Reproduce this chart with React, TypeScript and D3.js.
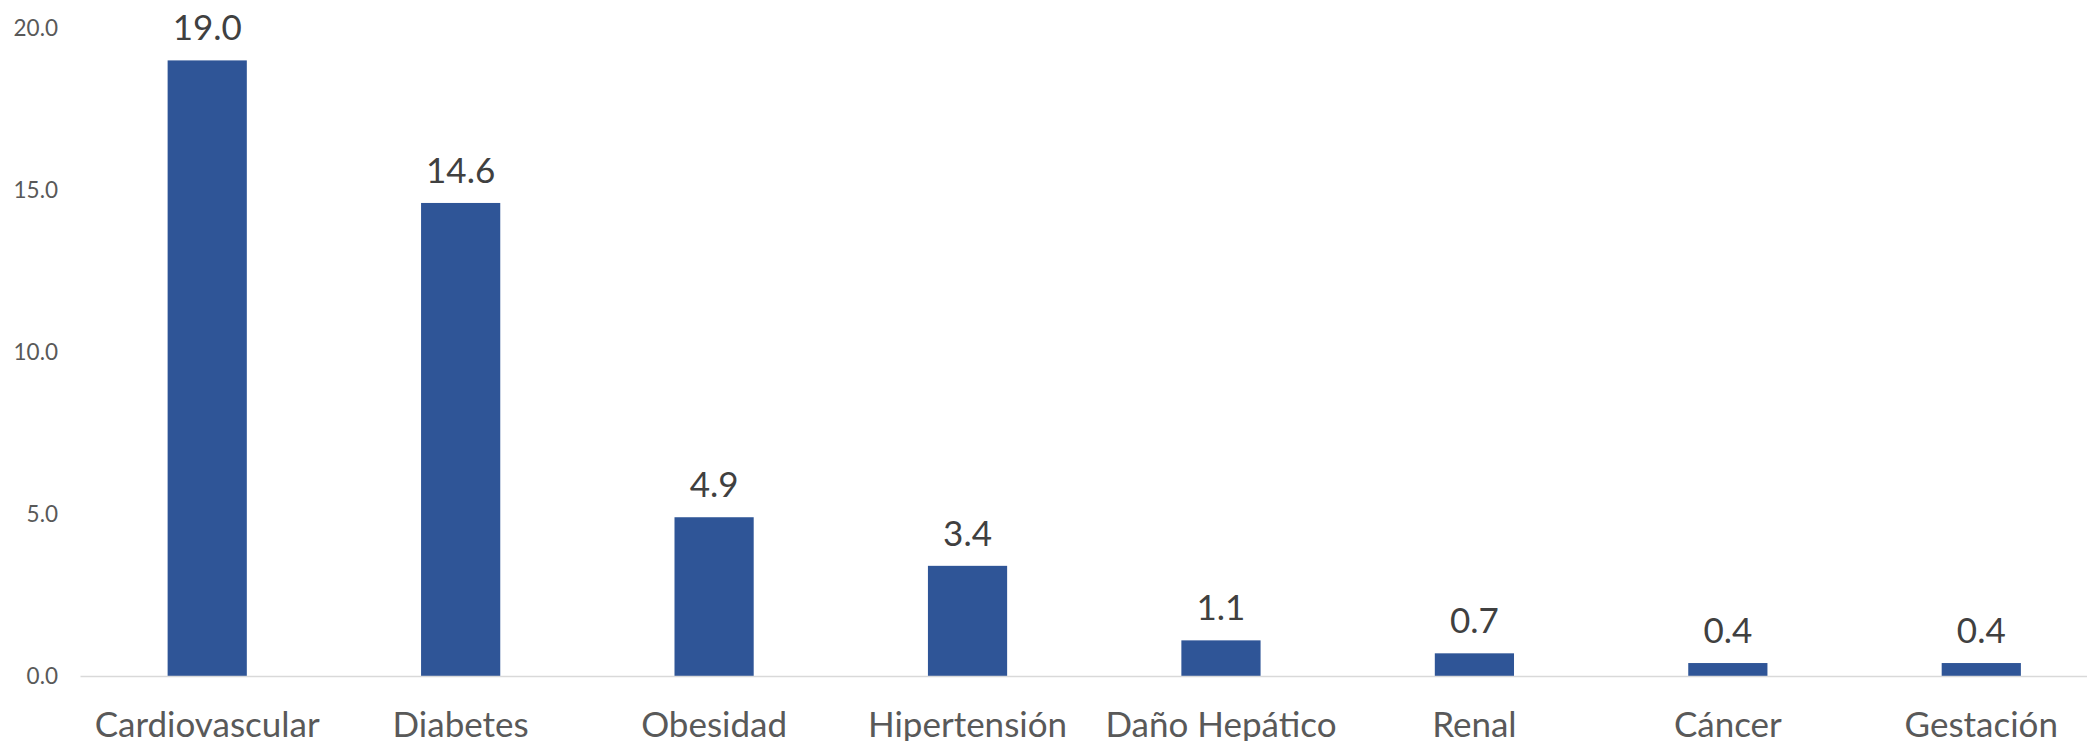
import React from "react";
import * as d3 from "d3";

const categories = ["Cardiovascular", "Diabetes", "Obesidad", "Hipertensión", "Daño Hepático", "Renal", "Cáncer", "Gestación"];
const values = [19.0, 14.6, 4.9, 3.4, 1.1, 0.7, 0.4, 0.4];
const yTicks = [0, 5, 10, 15, 20];

const W = 2087;
const H = 741;
const FONT = "Lato, 'Open Sans', sans-serif";

export default function App() {
  const x = d3
    .scaleBand<string>()
    .domain(categories)
    .range([80.5, 2108])
    .paddingInner(0.6875)
    .paddingOuter(0.34375);
  const y = d3.scaleLinear().domain([0, 20]).range([676, 28]);
  const fmt = d3.format(".1f");

  return (
    <svg
      width={W}
      height={H}
      style={{ position: "absolute", left: 0, top: 0, background: "#fff" }}
      fontFamily={FONT}
    >
      <rect x={0} y={0} width={W} height={H} fill="#ffffff" />
      {yTicks.map((t) => (
        <text
          key={t}
          x={58}
          y={y(t)}
          dy="0.35em"
          textAnchor="end"
          fontSize={22.5}
          fill="#595959"
        >
          {fmt(t)}
        </text>
      ))}
      {categories.map((c, i) => (
        <g key={c}>
          <rect
            x={x(c)!}
            y={y(values[i])}
            width={x.bandwidth()}
            height={y(0) - y(values[i])}
            fill="#2F5597"
          />
          <text
            x={x(c)! + x.bandwidth() / 2}
            y={y(values[i]) - 20}
            textAnchor="middle"
            fontSize={35}
            fill="#404040"
          >
            {fmt(values[i])}
          </text>
          <text
            x={x(c)! + x.bandwidth() / 2}
            y={737}
            textAnchor="middle"
            fontSize={35}
            fill="#595959"
          >
            {c}
          </text>
        </g>
      ))}
      <line x1={80.5} x2={W} y1={y(0) + 0.5} y2={y(0) + 0.5} stroke="#d9d9d9" strokeWidth={1.5} />
    </svg>
  );
}
